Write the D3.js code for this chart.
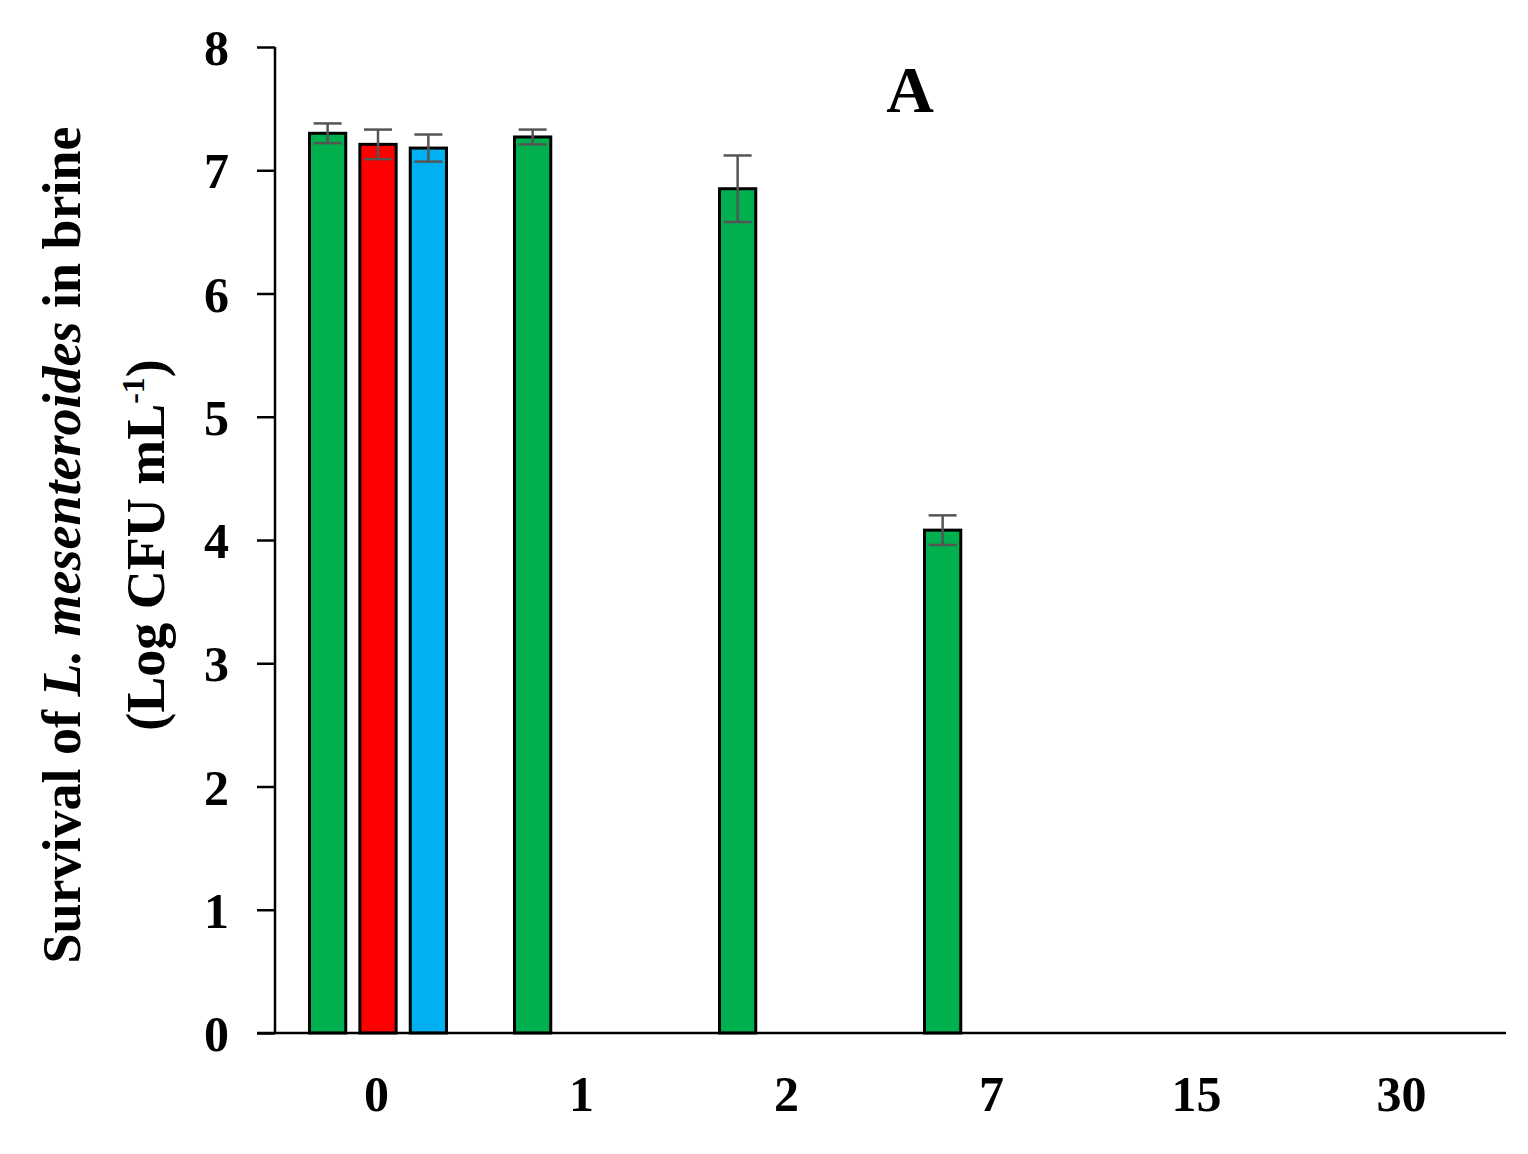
<!DOCTYPE html>
<html><head><meta charset="utf-8">
<script src="https://cdn.jsdelivr.net/npm/d3@7"></script>
<style>body{margin:0;background:#fff}text{font-family:"Liberation Serif","Times New Roman",serif;font-weight:bold}</style>
</head><body><svg id="c" width="1528" height="1154"></svg>
<script>
var days = ["0", "1", "2", "7", "15", "30"];
var seriesNames = ["s1", "s2", "s3"];
var seriesColors = ["#00b04f", "#ff0000", "#00b0f0"];
// values per series per day (null = not shown)
var green = [7.30, 7.27, 6.85, 4.08, null, null];
var red = [7.21, null, null, null, null, null];
var blue = [7.18, null, null, null, null, null];
var greenErr = [0.08, 0.06, 0.27, 0.12, 0, 0];
var redErr = [0.12, 0, 0, 0, 0, 0];
var blueErr = [0.11, 0, 0, 0, 0, 0];
var yTicks = [0, 1, 2, 3, 4, 5, 6, 7, 8];

var svg = d3.select("#c");
var y = d3.scaleLinear().domain([0, 8]).range([1033, 47]);
var x = d3.scaleBand().domain(days).range([274, 1504]);
var inner = d3.scaleBand().domain(seriesNames).range([-67, 70]).paddingInner(0.28);

var values = [green, red, blue], errs = [greenErr, redErr, blueErr];
seriesNames.forEach(function (s, si) {
    days.forEach(function (d, di) {
        var v = values[si][di];
        if (v == null) return;
        var cx = x(d) + x.bandwidth() / 2 + inner(s);
        svg.append("rect").attr("x", cx).attr("y", y(v))
            .attr("width", inner.bandwidth()).attr("height", y(0) - y(v))
            .attr("fill", seriesColors[si]).attr("stroke", "#000").attr("stroke-width", 3);
        var e = errs[si][di], mx = cx + inner.bandwidth() / 2;
        if (e > 0) {
            var g = svg.append("g").attr("stroke", "#555").attr("stroke-width", 2.5);
            g.append("line").attr("x1", mx).attr("x2", mx).attr("y1", y(v + e)).attr("y2", y(v - e));
            g.append("line").attr("x1", mx - 14).attr("x2", mx + 14).attr("y1", y(v + e)).attr("y2", y(v + e));
            g.append("line").attr("x1", mx - 14).attr("x2", mx + 14).attr("y1", y(v - e)).attr("y2", y(v - e));
        }
    });
});

// axes
var ya = svg.append("g").attr("transform", "translate(275,0)")
    .call(d3.axisLeft(y).tickValues(yTicks).tickSize(18).tickPadding(28));
ya.select(".domain").attr("stroke-width", 2.5).attr("d", "M0,1033V47");
ya.selectAll("line").attr("stroke-width", 2.5);
ya.selectAll("text").attr("font-size", 50).attr("font-family", null).attr("dy", "0.35em");

var xa = svg.append("g").attr("transform", "translate(0,1033)")
    .call(d3.axisBottom(x).tickSize(0).tickPadding(42));
xa.select(".domain").attr("stroke-width", 2.5).attr("d", "M257,0H1506");
xa.selectAll("text").attr("font-size", 50).attr("font-family", null).attr("dy", "0.71em");

svg.append("text").attr("x", 910).attr("y", 112).attr("text-anchor", "middle")
    .attr("font-size", 66).text("A");

var yl = svg.append("text").attr("transform", "translate(80,545) rotate(-90)")
    .attr("text-anchor", "middle").attr("font-size", 54);
yl.append("tspan").text("Survival of ");
yl.append("tspan").attr("font-style", "italic").text("L. mesenteroides");
yl.append("tspan").text(" in brine");
var yl2 = svg.append("text").attr("transform", "translate(164,545) rotate(-90)")
    .attr("text-anchor", "middle").attr("font-size", 54);
yl2.append("tspan").text("(Log CFU mL");
yl2.append("tspan").attr("font-size", 32).attr("dy", -20).text("-1");
yl2.append("tspan").attr("dy", 20).text(")");
</script></body></html>
